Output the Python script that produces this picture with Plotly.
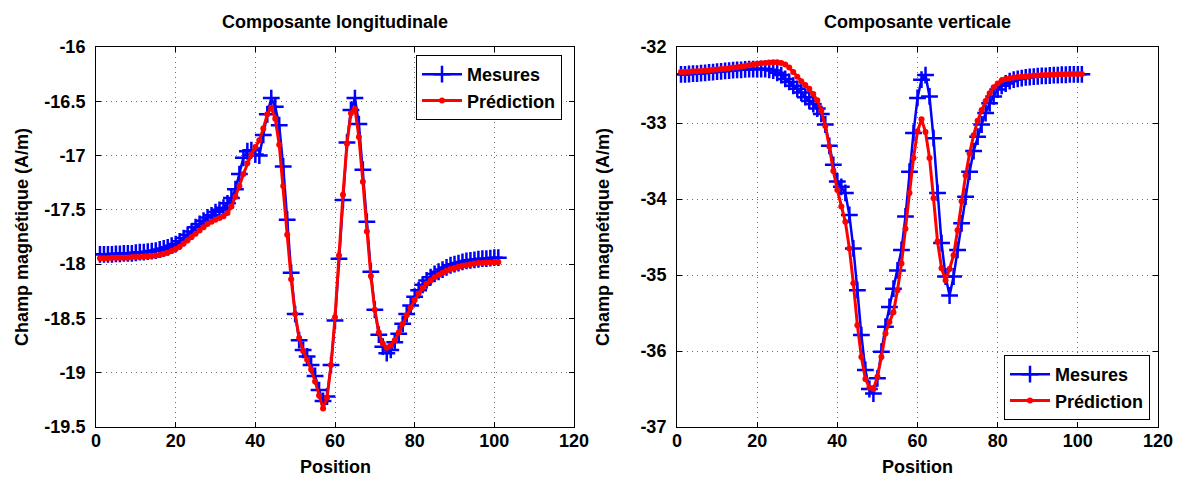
import plotly.graph_objects as go

# ---- data ----
positions = list(range(1, 102))

long_mesures = [
    -17.91, -17.91, -17.91, -17.91, -17.905, -17.905, -17.90, -17.90, -17.90, -17.895,
    -17.89, -17.89, -17.885, -17.88, -17.875, -17.865, -17.855, -17.845, -17.83, -17.815,
    -17.79, -17.76, -17.73, -17.70, -17.66, -17.63, -17.60, -17.57, -17.55, -17.52,
    -17.50, -17.48, -17.44, -17.39, -17.31, -17.17, -17.02, -16.96, -16.95, -16.99,
    -17.00, -16.81, -16.62, -16.47, -16.55, -16.72, -17.10, -17.59, -18.08, -18.46,
    -18.70, -18.79, -18.85, -18.93, -19.03, -19.16, -19.26, -19.22, -18.93, -18.52,
    -17.95, -17.41, -16.88, -16.58, -16.47, -16.71, -17.13, -17.61, -18.07, -18.42,
    -18.65, -18.76, -18.82, -18.79, -18.72, -18.64, -18.55, -18.46, -18.38, -18.30,
    -18.24, -18.19, -18.15, -18.12, -18.09, -18.07, -18.05, -18.03, -18.01, -18.00,
    -17.99, -17.98, -17.97, -17.965, -17.96, -17.955, -17.95, -17.95, -17.945, -17.94,
    -17.94,
]
long_prediction = [
    -17.945, -17.945, -17.945, -17.94, -17.94, -17.94, -17.94, -17.94, -17.935, -17.935,
    -17.935, -17.93, -17.93, -17.925, -17.92, -17.915, -17.905, -17.895, -17.88, -17.86,
    -17.84, -17.81, -17.78, -17.75, -17.72, -17.69, -17.66, -17.63, -17.61, -17.59,
    -17.575, -17.56, -17.53, -17.47, -17.38, -17.28, -17.17, -17.07, -16.99, -16.92,
    -16.86, -16.75, -16.62, -16.56, -16.66, -16.90, -17.28, -17.73, -18.14, -18.46,
    -18.68, -18.80, -18.88, -18.97, -19.08, -19.21, -19.33, -19.23, -18.93, -18.49,
    -17.92, -17.36, -16.89, -16.61, -16.57, -16.83, -17.24, -17.70, -18.11, -18.42,
    -18.63, -18.73, -18.77, -18.75, -18.70, -18.63, -18.55, -18.47, -18.40, -18.33,
    -18.27, -18.22, -18.18, -18.15, -18.12, -18.10, -18.08, -18.06, -18.045, -18.035,
    -18.025, -18.015, -18.01, -18.00, -17.995, -17.99, -17.99, -17.985, -17.985, -17.98,
    -17.98,
]
vert_mesures = [
    -32.36, -32.36, -32.355, -32.35, -32.35, -32.345, -32.34, -32.335, -32.33, -32.325,
    -32.32, -32.315, -32.31, -32.305, -32.30, -32.30, -32.295, -32.29, -32.29, -32.29,
    -32.29, -32.29, -32.30, -32.31, -32.34, -32.37, -32.42, -32.46, -32.51, -32.55,
    -32.60, -32.66, -32.71, -32.75, -32.81, -32.88, -33.02, -33.30, -33.55, -33.77,
    -33.84, -33.92, -34.21, -34.65, -35.20, -35.79, -36.25, -36.50, -36.56, -36.36,
    -36.01, -35.68, -35.42, -35.18, -34.94, -34.67, -34.23, -33.64, -33.13, -32.67,
    -32.43, -32.37, -32.65, -33.20, -33.92, -34.58, -35.02, -35.27, -35.02, -34.67,
    -34.32, -33.97, -33.64, -33.37, -33.18, -33.02, -32.87, -32.74, -32.65, -32.56,
    -32.51, -32.48, -32.45, -32.43, -32.42, -32.41, -32.40, -32.395, -32.39, -32.385,
    -32.38, -32.38, -32.375, -32.37, -32.37, -32.365, -32.365, -32.36, -32.36, -32.36,
    -32.36,
]
vert_prediction = [
    -32.33, -32.33, -32.325, -32.32, -32.32, -32.315, -32.31, -32.305, -32.30, -32.295,
    -32.29, -32.285, -32.28, -32.27, -32.265, -32.255, -32.25, -32.24, -32.23, -32.22,
    -32.215, -32.21, -32.205, -32.20, -32.20, -32.21, -32.23, -32.27, -32.33, -32.39,
    -32.45, -32.50, -32.55, -32.62, -32.70, -32.84, -33.04, -33.31, -33.63, -33.88,
    -34.10, -34.30, -34.65, -35.11, -35.66, -36.08, -36.37, -36.48, -36.50, -36.34,
    -36.08, -35.77, -35.62, -35.49, -35.20, -34.85, -34.39, -33.92, -33.46, -33.11,
    -32.95, -33.12, -33.46, -33.99, -34.56, -34.91, -35.07, -34.92, -34.74, -34.41,
    -34.03, -33.69, -33.40, -33.16, -32.97, -32.83, -32.71, -32.61, -32.53, -32.48,
    -32.44, -32.42, -32.41, -32.40, -32.395, -32.39, -32.385, -32.38, -32.375, -32.375,
    -32.37, -32.37, -32.365, -32.365, -32.36, -32.36, -32.36, -32.355, -32.355, -32.355,
    -32.355,
]

x_ticks = [0, 20, 40, 60, 80, 100, 120]
x_ticktext = ["0", "20", "40", "60", "80", "100", "120"]
yl_ticks = [-19.5, -19, -18.5, -18, -17.5, -17, -16.5, -16]
yl_ticktext = ["-19.5", "-19", "-18.5", "-18", "-17.5", "-17", "-16.5", "-16"]
yr_ticks = [-37, -36, -35, -34, -33, -32]
yr_ticktext = ["-37", "-36", "-35", "-34", "-33", "-32"]

titles = ["Composante longitudinale", "Composante verticale"]
xlabel = "Position"
ylabel = "Champ magnétique (A/m)"
names = ["Mesures", "Prédiction"]

BLUE = "#0000ff"
RED = "#ff0000"

fig = go.Figure()

def add_pair(xa, ya, meas, pred, legend):
    fig.add_trace(go.Scatter(
        x=positions, y=meas, name=names[0], mode="lines+markers",
        line=dict(color=BLUE, width=2.5),
        marker=dict(symbol="cross-thin", size=12, line=dict(color=BLUE, width=2.5)),
        xaxis=xa, yaxis=ya, legend=legend))
    fig.add_trace(go.Scatter(
        x=positions, y=pred, name=names[1], mode="lines+markers",
        line=dict(color=RED, width=3),
        marker=dict(symbol="circle", size=6, color=RED),
        xaxis=xa, yaxis=ya, legend=legend))

add_pair("x", "y", long_mesures, long_prediction, "legend")
add_pair("x2", "y2", vert_mesures, vert_prediction, "legend2")

# page body adds an 8px offset; figure is sized/placed to compensate
OFF = 8
W, H = 1189 - OFF, 478 - OFF
ML, MR, MT, MB = 96 - OFF, 31, 47 - OFF, 51
inner_w = W - ML - MR
inner_h = H - MT - MB

axis_common = dict(
    showline=True, linecolor="black", linewidth=1, mirror="ticks",
    ticks="inside", ticklen=5, tickcolor="black", tickwidth=1,
    showgrid=True, gridcolor="#6e6e6e", griddash="1px,4px", gridwidth=1,
    zeroline=False,
)
x_common = dict(axis_common, ticklabelstandoff=-3)
y_common = dict(axis_common, ticklabelstandoff=6)

fig.update_layout(
    width=W, height=H,
    margin=dict(l=ML, r=MR, t=MT, b=MB),
    paper_bgcolor="white", plot_bgcolor="white",
    font=dict(family="Liberation Sans, Arial, Helvetica, sans-serif", size=18,
              color="black", weight="bold"),
    xaxis=dict(domain=[0, (574 - 96) / inner_w], range=[0, 120],
               tickvals=x_ticks, ticktext=x_ticktext, anchor="y", **x_common),
    yaxis=dict(domain=[0, 1], range=[-19.5, -16],
               tickvals=yl_ticks, ticktext=yl_ticktext, anchor="x", **y_common),
    xaxis2=dict(domain=[(677 - 96) / inner_w, 1], range=[0, 120],
                tickvals=x_ticks, ticktext=x_ticktext, anchor="y2", **x_common),
    yaxis2=dict(domain=[0, 1], range=[-37, -32],
                tickvals=yr_ticks, ticktext=yr_ticktext, anchor="x2", **y_common),
    legend=dict(x=(562 - 96) / inner_w, y=1 - (55 - 47) / inner_h,
                xanchor="right", yanchor="top", bgcolor="white",
                bordercolor="black", borderwidth=1, font=dict(size=18),
                tracegroupgap=0, itemwidth=40),
    legend2=dict(x=1 - (1158 - 1150) / inner_w, y=1 - (420 - 47) / inner_h,
                 xanchor="right", yanchor="bottom", bgcolor="white",
                 bordercolor="black", borderwidth=1, font=dict(size=18),
                 tracegroupgap=0, itemwidth=40),
    showlegend=True,
)

annotations = []
for i, (xd, yd) in enumerate([("x domain", "y domain"), ("x2 domain", "y2 domain")]):
    annotations.append(dict(text=titles[i], x=0.5, y=1, xref=xd, yref=yd,
                            xanchor="center", yanchor="middle", yshift=25,
                            showarrow=False, font=dict(size=18)))
    annotations.append(dict(text=xlabel, x=0.5, y=0, xref=xd, yref=yd,
                            xanchor="center", yanchor="middle", yshift=-40,
                            showarrow=False, font=dict(size=18)))
    annotations.append(dict(text=ylabel, x=0, y=0.5, xref=xd, yref=yd,
                            xanchor="center", yanchor="middle", xshift=-74,
                            textangle=-90, showarrow=False, font=dict(size=18)))
fig.update_layout(annotations=annotations)

fig.write_html("out.html")
